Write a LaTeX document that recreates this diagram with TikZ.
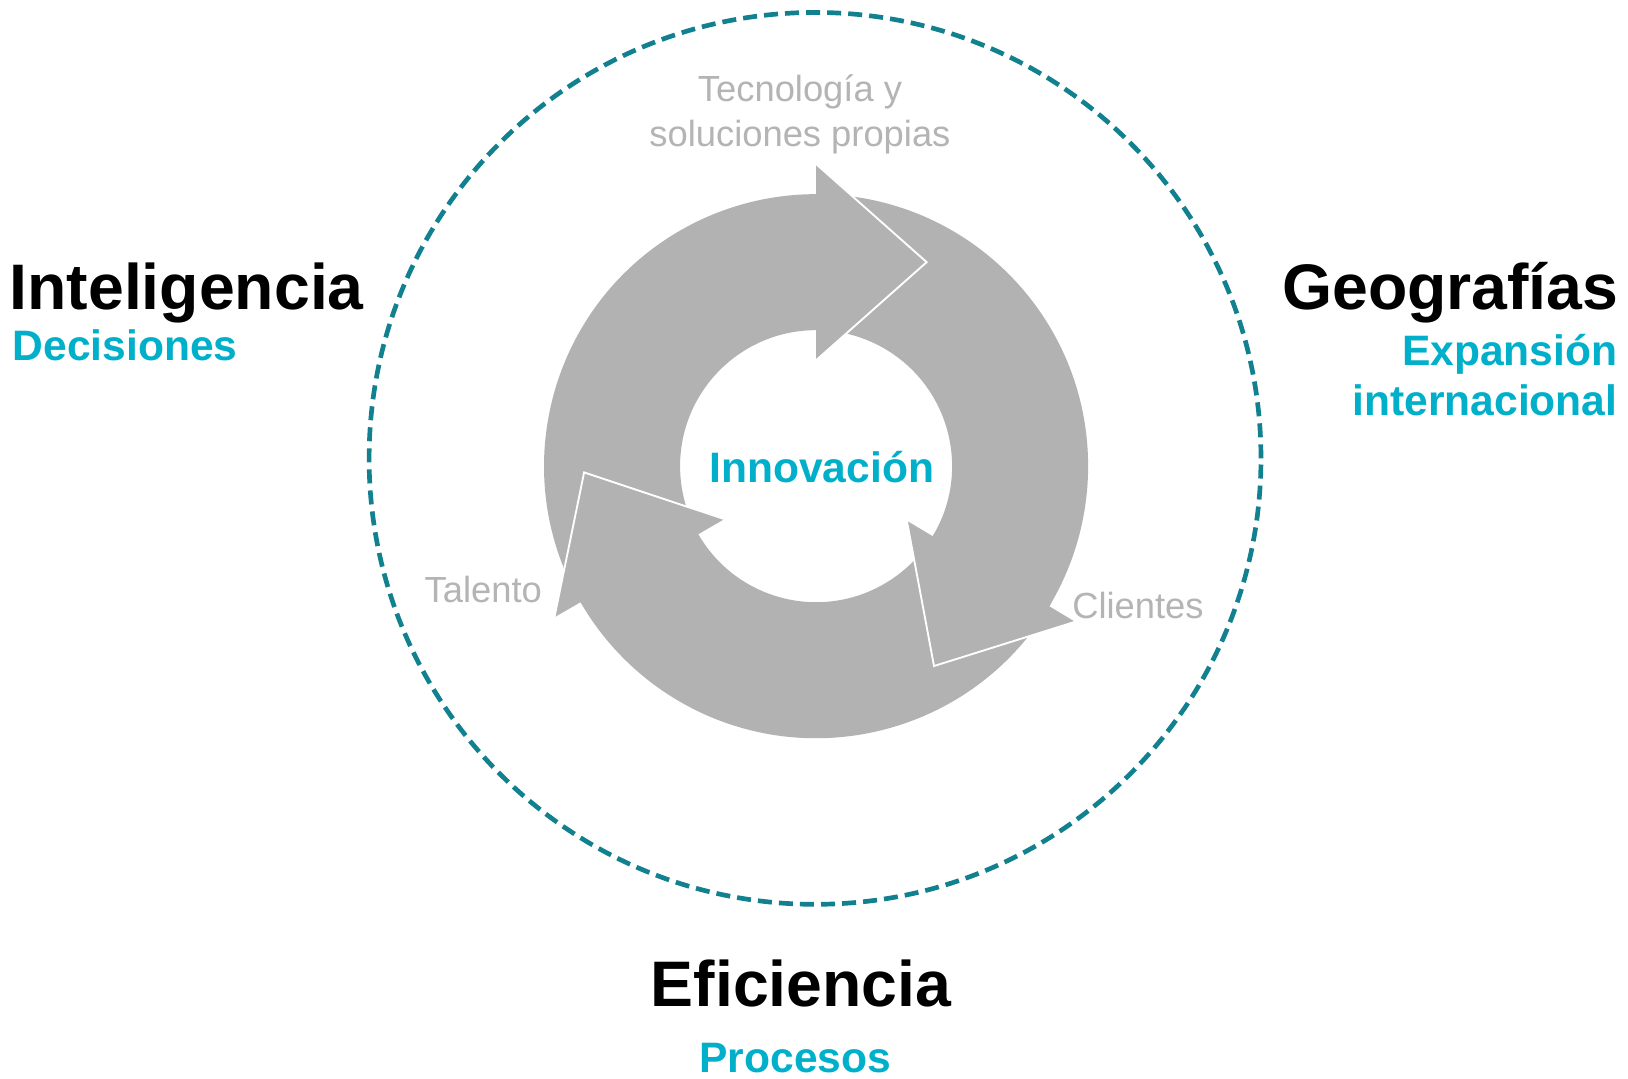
\documentclass[tikz,border=0pt]{standalone}
\usepackage{fontspec}
\setmainfont{Liberation Sans}
\usetikzlibrary{calc}
\definecolor{ringgray}{HTML}{B2B2B2}
\definecolor{txtgray}{HTML}{B4B4B4}
\definecolor{cyanT}{HTML}{00B0CA}
\definecolor{tealD}{HTML}{11808F}
\newcommand\cyclearrowfill[1]{%
  \fill[ringgray] ({#1+120}:262) arc[start angle={#1+120}, end angle={#1}, radius=262]
    -- ({#1}:291) -- ($({#1}:196.5)+({#1-90}:106.5)$) -- ({#1}:102) -- ({#1}:131)
    arc[start angle={#1}, end angle={#1+120}, radius=131] -- cycle;}
\newcommand\cyclearrowedge[1]{%
  \draw[headedge] ({#1}:291) -- ($({#1}:196.5)+({#1-90}:106.5)$) -- ({#1}:102);}
\begin{document}
\begin{tikzpicture}[x=1pt,y=1pt,
  title/.style={inner sep=0pt, font=\fontsize{62}{74}\selectfont\bfseries, text=black},
  subtitle/.style={inner sep=0pt, font=\fontsize{41}{49}\selectfont\bfseries, text=cyanT},
  glabel/.style={inner sep=0pt, font=\fontsize{35}{42}\selectfont, text=txtgray},
  headedge/.style={draw=white, line width=1.8pt, line join=miter},
  boundary/.style={draw=tealD, line width=4.5pt, dash pattern=on 13.5pt off 6.8pt}]
\useasboundingbox[fill=white] (0,0) rectangle (1568,1039);

% dashed outer circle
\draw[boundary] (785,597.5) circle[radius=429.5];

% cycle arrows
\begin{scope}[shift={(786,590)}]
  \cyclearrowfill{90}
  \cyclearrowfill{-31}
  \cyclearrowfill{210}
  \cyclearrowedge{90}
  \cyclearrowedge{-31}
  \cyclearrowedge{210}
\end{scope}

% center
\node[subtitle, anchor=base] (innov) at (791.5,574) {Innovación};

% arrow labels
\node[glabel, anchor=base] (tec1) at (770.5,941) {Tecnología y};
\node[glabel, anchor=base] (tec2) at (770.5,897.7) {soluciones propias};
\node[glabel, anchor=base] (talento) at (465.5,459) {Talento};
\node[glabel, anchor=base] (clientes) at (1096,443) {Clientes};

% outer titles
\node[title, anchor=base west] (intel) at (9,741) {Inteligencia};
\node[subtitle, anchor=base west] (decis) at (12,692) {Decisiones};
\node[title, anchor=base east] (geo) at (1559,741) {Geografías};
\node[subtitle, anchor=base east] (exp1) at (1558,687) {Expansión};
\node[subtitle, anchor=base east] (exp2) at (1558,639) {internacional};
\node[title, anchor=base] (efic) at (771.5,69.5) {Eficiencia};
\node[subtitle, anchor=base] (proc) at (766,6.5) {Procesos};
\end{tikzpicture}
\end{document}
